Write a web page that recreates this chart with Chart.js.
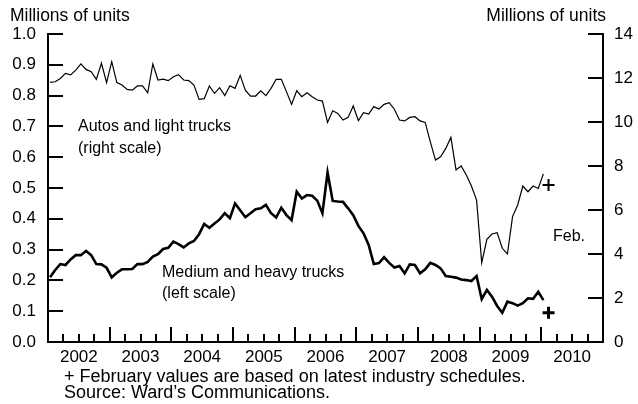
<!DOCTYPE html>
<html>
<head>
<meta charset="utf-8">
<script src="https://cdn.jsdelivr.net/npm/chart.js@4.4.0/dist/chart.umd.min.js"></script>
<style>
  html, body { margin: 0; padding: 0; background: #fff; }
  #wrap { width: 638px; height: 404px; }
</style>
</head>
<body>
<div id="wrap"><canvas id="chart" width="638" height="404"></canvas></div>
<script>
// 글꼴
const FONT = '"Liberation Sans", Arial, sans-serif';

// 연도 라벨 (x축)
const years = ['2002', '2003', '2004', '2005', '2006', '2007', '2008', '2009', '2010'];

// 월별 값, 2002년 1월 ~ 2010년 1월 (백만 대)
// 승용차 및 경트럭 (오른쪽 축)
const autosLight = [
  11.80, 11.83, 11.98, 12.21, 12.14, 12.36, 12.64, 12.39, 12.29, 11.94, 12.67, 11.79,
  12.74, 11.79, 11.68, 11.48, 11.45, 11.64, 11.64, 11.33, 12.64, 11.91, 11.95, 11.88,
  12.06, 12.15, 11.91, 11.88, 11.68, 11.03, 11.06, 11.64, 11.30, 11.56, 11.20, 11.65,
  11.53, 12.12, 11.45, 11.18, 11.18, 11.42, 11.20, 11.53, 11.94, 11.94, 11.38, 10.80,
  11.42, 11.15, 11.33, 11.15, 11.00, 10.95, 9.98, 10.51, 10.39, 10.09, 10.21, 10.73,
  10.06, 10.42, 10.36, 10.70, 10.59, 10.80, 10.88, 10.58, 10.09, 10.05, 10.21, 10.24,
  10.05, 9.98, 9.10, 8.27, 8.42, 8.80, 9.30, 7.82, 8.00, 7.59, 7.09, 6.45,
  3.60, 4.67, 4.91, 4.97, 4.26, 4.00, 5.70, 6.23, 7.09, 6.83, 7.09, 6.98,
  7.64
];

// 중형 및 대형 트럭 (왼쪽 축)
const mediumHeavy = [
  0.210, 0.234, 0.253, 0.250, 0.268, 0.282, 0.282, 0.296, 0.282, 0.253, 0.252, 0.241,
  0.210, 0.225, 0.236, 0.236, 0.237, 0.253, 0.253, 0.260, 0.277, 0.285, 0.302, 0.306,
  0.326, 0.318, 0.307, 0.320, 0.328, 0.350, 0.383, 0.371, 0.385, 0.398, 0.418, 0.402,
  0.450, 0.428, 0.405, 0.418, 0.431, 0.434, 0.445, 0.418, 0.404, 0.436, 0.412, 0.396,
  0.488, 0.466, 0.477, 0.475, 0.459, 0.418, 0.550, 0.458, 0.456, 0.455, 0.434, 0.412,
  0.377, 0.353, 0.315, 0.253, 0.256, 0.275, 0.257, 0.242, 0.247, 0.223, 0.252, 0.250,
  0.223, 0.236, 0.257, 0.250, 0.239, 0.214, 0.212, 0.209, 0.203, 0.201, 0.198, 0.214,
  0.139, 0.169, 0.147, 0.117, 0.095, 0.131, 0.126, 0.118, 0.126, 0.142, 0.140, 0.163,
  0.136
];

// 2월 예상치 (+ 표시)
const febAutos = [7.14];
const febTrucks = [0.095];

// 월 인덱스 -> x 값 (월 중간쯤)
const toPoints = (arr, start) => arr.map((v, i) => ({ x: start + i + 0.4, y: v }));

// 축 안쪽으로 눈금 그리기 + 텍스트
const decorPlugin = {
  id: 'decor',
  afterDraw(chart) {
    const ctx = chart.ctx;
    const area = chart.chartArea;
    const { x, y, y2 } = chart.scales;

    ctx.save();
    ctx.strokeStyle = '#000';
    ctx.lineWidth = 2;
    ctx.beginPath();
    y.ticks.forEach(t => {
      const py = Math.round(y.getPixelForValue(t.value));
      ctx.moveTo(area.left, py);
      ctx.lineTo(area.left + 15, py);
    });
    y2.ticks.forEach(t => {
      const py = Math.round(y2.getPixelForValue(t.value));
      ctx.moveTo(area.right, py);
      ctx.lineTo(area.right - 15, py);
    });
    x.ticks.forEach(t => {
      const px = Math.round(x.getPixelForValue(t.value));
      const len = t.value % 12 === 0 ? 15 : 8;
      ctx.moveTo(px, area.bottom);
      ctx.lineTo(px, area.bottom - len);
    });
    ctx.stroke();

    ctx.fillStyle = '#000';
    ctx.textBaseline = 'middle';
    ctx.textAlign = 'left';
    ctx.font = '17.5px ' + FONT;
    ctx.fillText('Millions of units', 10, 16);
    ctx.textAlign = 'right';
    ctx.fillText('Millions of units', 606, 16);

    ctx.textAlign = 'left';
    ctx.font = '16px ' + FONT;
    ctx.fillText('Autos and light trucks', 78, 127);
    ctx.fillText('(right scale)', 78, 149);
    ctx.fillText('Medium and heavy trucks', 162, 273);
    ctx.fillText('(left scale)', 162, 294);
    ctx.fillText('Feb.', 553, 237);

    ctx.font = '18px ' + FONT;
    ctx.fillText('+ February values are based on latest industry schedules.', 64, 377);
    ctx.fillText('Source: Ward\u2019s Communications.', 64, 393);
    ctx.restore();
  }
};

const tickFont = { family: FONT, size: 17 };

new Chart(document.getElementById('chart').getContext('2d'), {
  type: 'line',
  data: {
    datasets: [
      {
        label: 'Autos and light trucks',
        data: toPoints(autosLight, 0),
        yAxisID: 'y2',
        borderColor: '#000',
        borderWidth: 1.2,
        pointRadius: 0,
        tension: 0
      },
      {
        label: 'Medium and heavy trucks',
        data: toPoints(mediumHeavy, 0),
        yAxisID: 'y',
        borderColor: '#000',
        borderWidth: 2.6,
        pointRadius: 0,
        tension: 0
      },
      {
        label: 'Feb autos',
        data: toPoints(febAutos, 97),
        yAxisID: 'y2',
        showLine: false,
        pointStyle: 'cross',
        pointRadius: 6,
        borderColor: '#000',
        borderWidth: 2
      },
      {
        label: 'Feb trucks',
        data: toPoints(febTrucks, 97),
        yAxisID: 'y',
        showLine: false,
        pointStyle: 'cross',
        pointRadius: 6,
        borderColor: '#000',
        borderWidth: 3
      }
    ]
  },
  options: {
    responsive: false,
    devicePixelRatio: 1,
    animation: false,
    layout: { padding: { top: 34, left: 0, right: 0, bottom: 0 } },
    plugins: {
      legend: { display: false },
      tooltip: { enabled: false }
    },
    scales: {
      x: {
        type: 'linear',
        position: 'bottom',
        min: 0,
        max: 108,
        grid: { display: false, drawTicks: false },
        border: { display: true, color: '#000', width: 2 },
        ticks: {
          stepSize: 3,
          autoSkip: false,
          maxRotation: 0,
          padding: 5,
          color: '#000',
          font: tickFont,
          callback: v => (v % 12 === 6 ? years[(v - 6) / 12] : '')
        },
        afterFit: s => { s.height = 62; }
      },
      y: {
        position: 'left',
        min: 0,
        max: 1,
        grid: { display: false, drawTicks: false },
        border: { display: true, color: '#000', width: 2 },
        ticks: {
          stepSize: 0.1,
          padding: 12,
          color: '#000',
          font: tickFont,
          callback: v => v.toFixed(1)
        },
        afterFit: s => { s.width = 48; }
      },
      y2: {
        position: 'right',
        min: 0,
        max: 14,
        grid: { display: false, drawTicks: false },
        border: { display: true, color: '#000', width: 2 },
        ticks: {
          stepSize: 2,
          padding: 11,
          color: '#000',
          font: tickFont
        },
        afterFit: s => { s.width = 35; }
      }
    }
  },
  plugins: [decorPlugin]
});
</script>
</body>
</html>
